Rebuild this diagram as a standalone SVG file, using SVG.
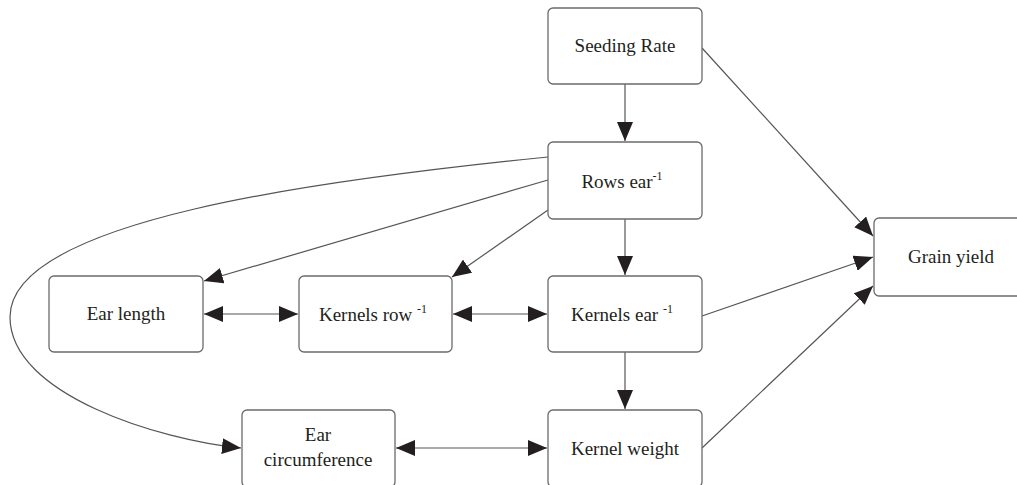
<svg xmlns="http://www.w3.org/2000/svg" width="1017" height="485" viewBox="0 0 1017 485">
<defs>
<style>
.box{fill:#fff;stroke:#6b6b6b;stroke-width:1.3}
.lbl{font-family:"Liberation Serif","DejaVu Serif","Noto Serif",serif;font-size:19px;fill:#231f20;text-anchor:middle}
.sup{font-size:12px}
.c{fill:none;stroke:#555;stroke-width:1.2}
</style>
<marker id="ah" markerUnits="userSpaceOnUse" markerWidth="20" markerHeight="16" viewBox="0 0 20 16" refX="19" refY="8" orient="auto-start-reverse">
<path d="M0,0 L19,8 L0,16 Z" fill="#231f20"/>
</marker>
</defs>
<g id="connectors">
<line class="c" x1="625" y1="84" x2="625" y2="141" marker-end="url(#ah)"/>
<line class="c" x1="702" y1="48" x2="873" y2="236" marker-end="url(#ah)"/>
<line class="c" x1="548" y1="180" x2="204" y2="281" marker-end="url(#ah)"/>
<line class="c" x1="548" y1="210" x2="452" y2="277" marker-end="url(#ah)"/>
<line class="c" x1="625" y1="219" x2="625" y2="275" marker-end="url(#ah)"/>
<path class="c" d="M548,157 C320,180 10,220 10,317 C10,395 160,440 241,448" marker-end="url(#ah)"/>
<line class="c" x1="204" y1="314" x2="298" y2="314" marker-start="url(#ah)" marker-end="url(#ah)"/>
<line class="c" x1="453" y1="314" x2="547" y2="314" marker-start="url(#ah)" marker-end="url(#ah)"/>
<line class="c" x1="625" y1="352" x2="625" y2="409" marker-end="url(#ah)"/>
<line class="c" x1="396" y1="448" x2="547" y2="448" marker-start="url(#ah)" marker-end="url(#ah)"/>
<line class="c" x1="702" y1="316" x2="873" y2="257" marker-end="url(#ah)"/>
<line class="c" x1="702" y1="448" x2="873" y2="286" marker-end="url(#ah)"/>
</g>
<g id="seeding-rate">
<rect class="box" x="548" y="8" width="154" height="76" rx="5"/>
<text class="lbl" x="625" y="52">Seeding Rate</text>
</g>
<g id="rows-ear">
<rect class="box" x="548" y="142" width="154" height="77" rx="5"/>
<text class="lbl" x="622" y="188">Rows ear<tspan class="sup" dy="-8">-1</tspan></text>
</g>
<g id="grain-yield">
<rect class="box" x="874" y="218" width="150" height="78" rx="5"/>
<text class="lbl" x="951" y="263">Grain yield</text>
</g>
<g id="ear-length">
<rect class="box" x="49" y="276" width="154" height="76" rx="5"/>
<text class="lbl" x="126" y="320">Ear length</text>
</g>
<g id="kernels-row">
<rect class="box" x="299" y="276" width="153" height="76" rx="5"/>
<text class="lbl" x="373" y="321">Kernels row <tspan class="sup" dy="-8">-1</tspan></text>
</g>
<g id="kernels-ear">
<rect class="box" x="548" y="276" width="154" height="76" rx="5"/>
<text class="lbl" x="622" y="321">Kernels ear <tspan class="sup" dy="-8">-1</tspan></text>
</g>
<g id="ear-circumference">
<rect class="box" x="242" y="410" width="153" height="77" rx="5"/>
<text class="lbl" x="318" y="441">Ear</text>
<text class="lbl" x="318" y="466">circumference</text>
</g>
<g id="kernel-weight">
<rect class="box" x="548" y="410" width="154" height="77" rx="5"/>
<text class="lbl" x="625" y="455">Kernel weight</text>
</g>
</svg>
